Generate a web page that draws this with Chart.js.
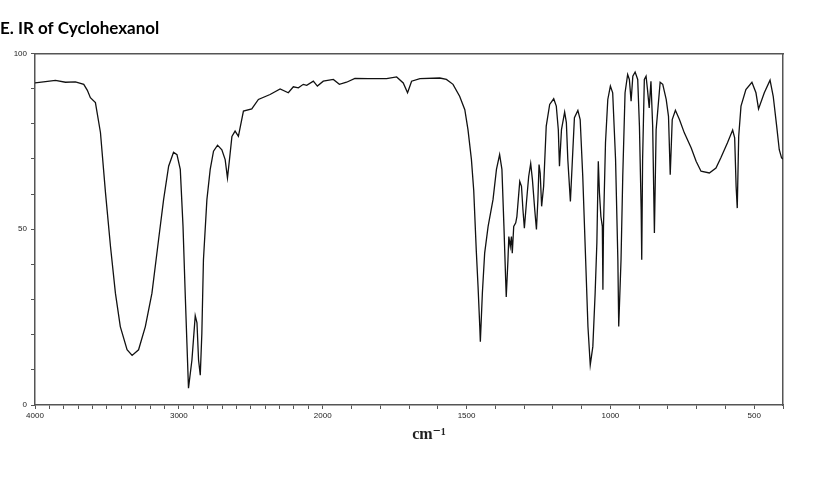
<!DOCTYPE html>
<html>
<head>
<meta charset="utf-8">
<script src="https://cdn.jsdelivr.net/npm/chart.js@4.4.0/dist/chart.umd.min.js"></script>
<style>
  body { margin: 0; background: #fff; }
  canvas { display: block; }
</style>
</head>
<body>
<canvas id="ir_chart" width="820" height="491"></canvas>
<script>
// spectrum (cm-1 / %T)
const wavenumbers = [4000, 3927, 3858, 3788, 3719, 3661, 3636, 3615, 3580, 3545,
  3510, 3475, 3441, 3407, 3360, 3325, 3280, 3233, 3187, 3141,
  3106, 3071, 3037, 3013, 2990, 2971, 2956, 2944, 2933, 2909,
  2886, 2874, 2863, 2851, 2840, 2829, 2805, 2782, 2759, 2731,
  2701, 2678, 2662, 2648, 2631, 2609, 2586, 2551, 2493, 2447,
  2366, 2296, 2239, 2204, 2169, 2135, 2111, 2065, 2037, 1998,
  1963, 1942, 1917, 1888, 1842, 1778, 1743, 1720, 1705, 1691,
  1662, 1593, 1570, 1547, 1524, 1506, 1495, 1483, 1475, 1466,
  1460, 1454, 1452, 1445, 1437, 1425, 1408, 1396, 1385, 1377,
  1370, 1364, 1362, 1356, 1353, 1348, 1344, 1341, 1336, 1329,
  1325, 1315, 1309, 1304, 1299, 1292, 1284, 1277, 1271, 1263,
  1257, 1252, 1248, 1244, 1239, 1232, 1223, 1211, 1197, 1188,
  1181, 1177, 1170, 1159, 1153, 1148, 1139, 1132, 1125, 1113,
  1105, 1096, 1086, 1078, 1070, 1061, 1053, 1047, 1042, 1038,
  1033, 1028, 1026, 1024, 1017, 1009, 1000, 992, 982, 974,
  971, 963, 957, 949, 940, 934, 928, 922, 914, 905,
  899, 893, 891, 888, 882, 876, 871, 865, 859, 853,
  847, 841, 836, 827, 818, 806, 798, 792, 785, 774,
  760, 743, 719, 702, 685, 656, 633, 616, 593, 575,
  568, 563, 559, 554, 546, 529, 508, 494, 485, 465,
  445, 434, 422, 413, 405, 400];

const transmittance = [91.6, 92.0, 92.3, 91.8, 91.9, 91.2, 89.5, 87.4, 86.0, 77.5,
  60.4, 45.0, 31.8, 22.3, 15.7, 14.1, 15.7, 22.3, 31.8, 47.0,
  58.4, 67.9, 71.9, 71.2, 67.0, 50.8, 31.9, 17.7, 4.8, 12.8,
  25.4, 23.4, 12.8, 8.5, 20.5, 41.3, 58.4, 67.0, 72.2, 73.9,
  72.6, 69.8, 64.6, 69.8, 76.4, 77.9, 76.4, 83.6, 84.2, 86.9,
  88.3, 89.9, 88.8, 90.5, 90.2, 91.2, 90.9, 92.1, 90.7, 92.1,
  92.6, 91.2, 91.8, 92.9, 92.8, 92.8, 93.3, 91.6, 88.8, 92.1,
  92.8, 93.0, 92.6, 91.2, 87.8, 84.0, 78.3, 69.8, 61.0, 43.7,
  33.7, 22.3, 18.0, 31.8, 43.2, 50.8, 58.4, 67.0, 71.2, 67.0,
  50.8, 35.6, 30.7, 41.3, 47.9, 45.1, 47.9, 43.2, 50.8, 51.8,
  53.6, 63.6, 62.2, 55.6, 50.3, 57.4, 65.0, 68.7, 64.1, 55.6,
  49.9, 58.4, 68.4, 66.0, 56.5, 62.2, 79.3, 85.5, 87.1, 85.0,
  78.3, 67.9, 78.3, 83.3, 80.3, 69.8, 57.9, 69.8, 81.7, 83.8,
  81.2, 65.0, 41.3, 22.3, 11.4, 16.6, 31.8, 46.1, 69.3, 60.3,
  53.6, 50.8, 32.8, 50.8, 74.6, 86.9, 90.7, 88.8, 69.8, 41.3,
  22.3, 41.3, 65.0, 88.8, 94.0, 92.6, 86.4, 93.5, 94.7, 92.6,
  79.3, 55.6, 41.3, 69.8, 92.6, 93.5, 89.7, 84.5, 92.1, 79.3,
  48.9, 78.3, 83.1, 91.8, 91.2, 86.9, 82.1, 65.5, 81.2, 83.8,
  81.2, 77.4, 73.1, 69.3, 66.5, 66.0, 67.4, 70.3, 74.6, 78.2,
  76.0, 62.2, 56.0, 76.4, 85.0, 89.7, 91.8, 88.8, 84.2, 88.8,
  92.4, 87.8, 79.3, 72.6, 70.3, 70.0];

const xTickLabels = [4000, 3000, 2000, 1500, 1000, 500];
const yTickLabels = [0, 50, 100];

// the instrument halves the scale above 2000 cm-1
function toPos(wn) {
  return wn >= 2000 ? (4000 - wn) / 2 : 1000 + (2000 - wn);
}
function fromPos(p) {
  return p <= 1000 ? 4000 - 2 * p : 2000 - (p - 1000);
}

const minorWn = [];
for (let w = 4000; w >= 400; w -= 100) minorWn.push(w);

const axisColor = "#555";
const tickFont = { family: "'Liberation Sans Narrow', 'Liberation Sans', sans-serif", size: 8 };

const points = wavenumbers.map((wn, i) => ({ x: toPos(wn), y: transmittance[i] }));

new Chart(document.getElementById("ir_chart"), {
  type: "line",
  data: {
    datasets: [
      {
        data: points,
        borderColor: "#111",
        borderWidth: 1.3,
        pointRadius: 0,
        tension: 0,
        fill: false,
      },
    ],
  },
  options: {
    responsive: false,
    animation: false,
    layout: { padding: { top: 0, left: 0, right: 37, bottom: 46 } },
    plugins: {
      legend: { display: false },
      tooltip: { enabled: false },
      title: {
        display: true,
        text: "E. IR of Cyclohexanol",
        align: "start",
        color: "#000",
        font: { family: "Lato, 'Open Sans', sans-serif", size: 17, weight: "bold" },
        padding: { top: 18, bottom: 15 },
      },
    },
    scales: {
      x: {
        type: "linear",
        min: 0,
        max: toPos(400),
        afterBuildTicks: (scale) => {
          scale.ticks = minorWn.map((w) => ({ value: toPos(w) }));
        },
        afterFit: (scale) => {
          scale.height = 40;
        },
        ticks: {
          autoSkip: false,
          maxRotation: 0,
          padding: 2,
          color: "#222",
          font: tickFont,
          callback: (value) => {
            const wn = Math.round(fromPos(value));
            return xTickLabels.includes(wn) ? String(wn) : "";
          },
        },
        grid: { drawOnChartArea: false, tickLength: 4, color: axisColor },
        border: { color: axisColor, width: 1.5 },
        title: {
          display: true,
          text: "\u2002\u2002\u2002\u2002\u2002cm\u207b\u00b9",
          color: "#222",
          font: { family: "'Liberation Serif', 'DejaVu Serif', serif", size: 16, weight: "bold" },
          padding: { top: 0, bottom: 1 },
        },
      },
      x2: {
        type: "linear",
        position: "top",
        min: 0,
        max: toPos(400),
        afterFit: (scale) => {
          scale.height = 0;
        },
        ticks: { display: false },
        grid: { display: false },
        border: { color: axisColor, width: 1.5 },
      },
      y: {
        min: 0,
        max: 100,
        afterFit: (scale) => {
          scale.width = 35;
        },
        ticks: {
          stepSize: 10,
          padding: 4,
          color: "#222",
          font: tickFont,
          callback: (value) => (yTickLabels.includes(value) ? String(value) : ""),
        },
        grid: { drawOnChartArea: false, tickLength: 4, color: axisColor },
        border: { color: axisColor, width: 1.5 },
      },
      y2: {
        position: "right",
        min: 0,
        max: 100,
        afterFit: (scale) => {
          scale.width = 0;
        },
        ticks: { display: false },
        grid: { display: false },
        border: { color: axisColor, width: 1.5 },
      },
    },
  },
});
</script>
</body>
</html>
